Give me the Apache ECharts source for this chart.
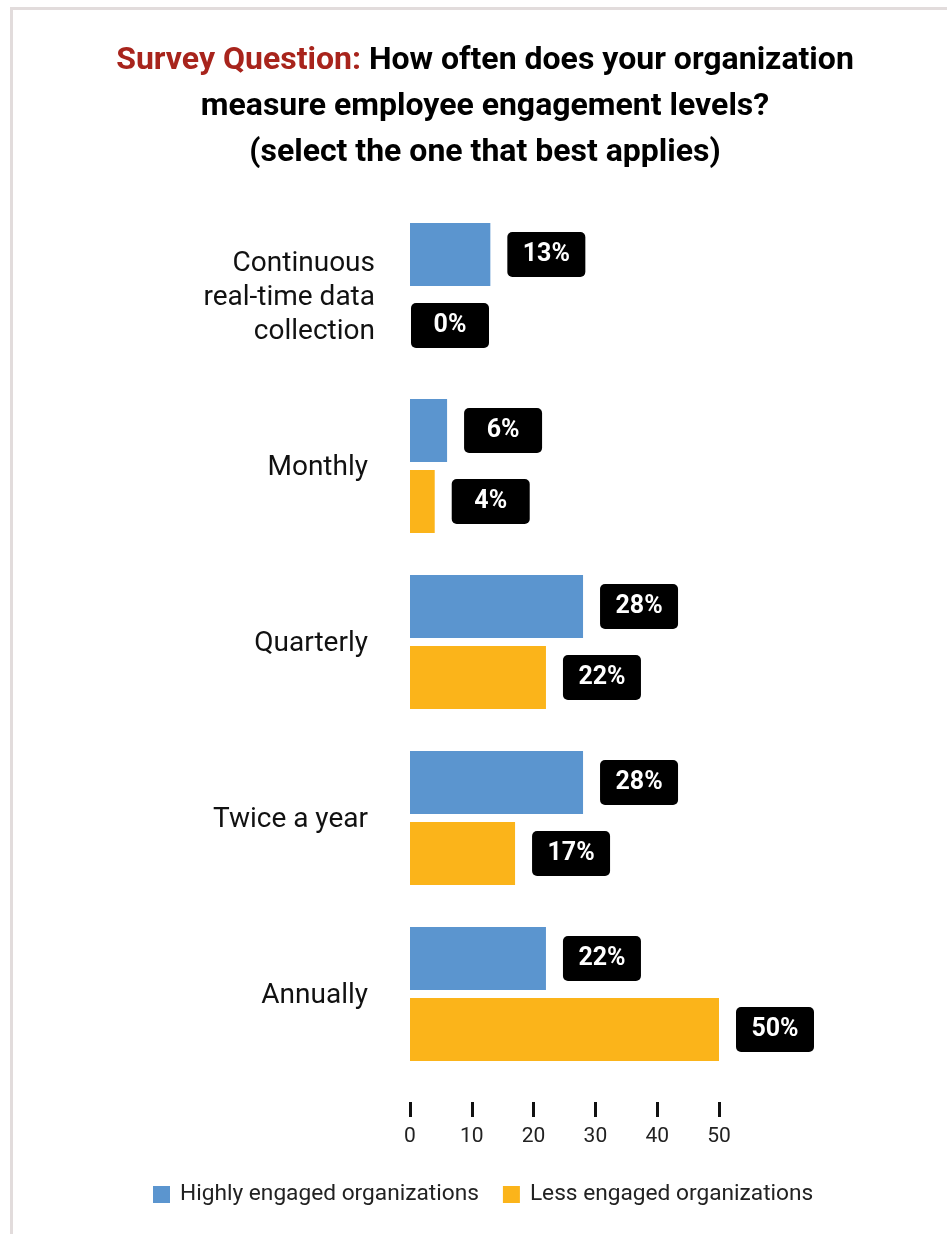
<!DOCTYPE html>
<html>
<head>
<meta charset="utf-8">
<script src="https://cdn.jsdelivr.net/npm/echarts@6/dist/echarts.min.js"></script>
<style>
  html, body { margin: 0; padding: 0; background: #fff; }
  #chart { width: 947px; height: 1234px; }
</style>
</head>
<body>
<div id="chart"></div>
<script>
// Survey: frequency of employee engagement measurement
const categories = [
  'Continuous\nreal-time data\ncollection',
  'Monthly',
  'Quarterly',
  'Twice a year',
  'Annually'
];
const highlyEngaged = [13, 6, 28, 28, 22];
const lessEngaged = [0, 4, 22, 17, 50];
const seriesNames = ['Highly engaged organizations', 'Less engaged organizations'];
const xTicks = [0, 10, 20, 30, 40, 50];

const BLUE = '#5b95cf';
const ORANGE = '#fbb41a';

const chart = echarts.init(document.getElementById('chart'), null, { renderer: 'canvas' });

const valueLabel = {
  show: true,
  position: 'right',
  distance: 56,
  align: 'center',
  verticalAlign: 'middle',
  formatter: '{c}%',
  color: '#fff',
  fontFamily: 'Roboto',
  fontWeight: 'bold',
  fontSize: 25,
  lineHeight: 27,
  backgroundColor: '#000',
  borderRadius: 5,
  width: 78,
  padding: [11, 0, 7, 0]
};

// zero-length bars keep their badge next to the axis
function toData(values) {
  return values.map(v => v === 0 ? { value: v, label: { distance: 40 } } : v);
}

const catFont = { fontFamily: 'Roboto', fontSize: 28, lineHeight: 34, color: '#111' };

// multi-line category: a small spacer line nudges the block down;
// single-line categories sit a few pixels further from the bars
function categoryLabel(val) {
  if (val.indexOf('\n') >= 0) {
    return '{s| }\n' + val.split('\n').map(l => '{n|' + l + '}').join('\n');
  }
  return '{p|' + val + '}';
}

const titleFont = { fontFamily: 'Roboto', fontWeight: 'bold', fontSize: 32, lineHeight: 46 };

const option = {
  backgroundColor: '#fff',
  animation: false,
  textStyle: { fontFamily: 'Roboto' },
  graphic: [
    { type: 'rect', shape: { x: 10, y: 7, width: 937, height: 3 }, style: { fill: '#e2dcdc' }, silent: true },
    { type: 'rect', shape: { x: 10, y: 7, width: 3, height: 1227 }, style: { fill: '#e2dcdc' }, silent: true },
    {
      type: 'text',
      x: 485,
      y: 38,
      silent: true,
      style: {
        text: '{r|Survey Question:} {b|How often does your organization}\n{b|measure employee engagement levels?}\n{b|(select the one that best applies)}',
        align: 'center',
        verticalAlign: 'top',
        fill: '#000',
        ...titleFont,
        rich: {
          r: { ...titleFont, fill: '#a8241c', color: '#a8241c' },
          b: { ...titleFont, fill: '#000', color: '#000' }
        }
      }
    }
  ],
  legend: {
    left: 148,
    top: 1178,
    icon: 'rect',
    itemWidth: 17,
    itemHeight: 17,
    itemGap: 24,
    textStyle: { fontFamily: 'Roboto', fontSize: 22.7, color: '#222', padding: [0, 0, 0, 5] },
    data: seriesNames
  },
  grid: { left: 410, right: 228, top: 202, bottom: 152, containLabel: false },
  xAxis: {
    type: 'value',
    min: 0,
    max: 50,
    interval: 10,
    offset: 20,
    splitLine: { show: false },
    axisLine: { show: false },
    axisTick: { show: true, length: 15, lineStyle: { color: '#111', width: 3 } },
    axisLabel: {
      margin: 24,
      fontFamily: 'Roboto',
      fontSize: 21,
      color: '#222',
      customValues: xTicks
    }
  },
  yAxis: {
    type: 'category',
    inverse: true,
    data: categories,
    axisLine: { show: false },
    axisTick: { show: false },
    axisLabel: {
      margin: 35,
      align: 'right',
      ...catFont,
      formatter: categoryLabel,
      rich: {
        s: { fontSize: 1, lineHeight: 16 },
        n: { ...catFont },
        p: { ...catFont, padding: [3, 7, 0, 0] }
      }
    }
  },
  series: [
    {
      name: seriesNames[0],
      type: 'bar',
      data: toData(highlyEngaged),
      barWidth: 63,
      barGap: '12.7%',
      itemStyle: { color: BLUE },
      label: valueLabel
    },
    {
      name: seriesNames[1],
      type: 'bar',
      data: toData(lessEngaged),
      barWidth: 63,
      barGap: '12.7%',
      itemStyle: { color: ORANGE },
      label: valueLabel
    }
  ]
};

chart.setOption(option);
</script>
</body>
</html>
